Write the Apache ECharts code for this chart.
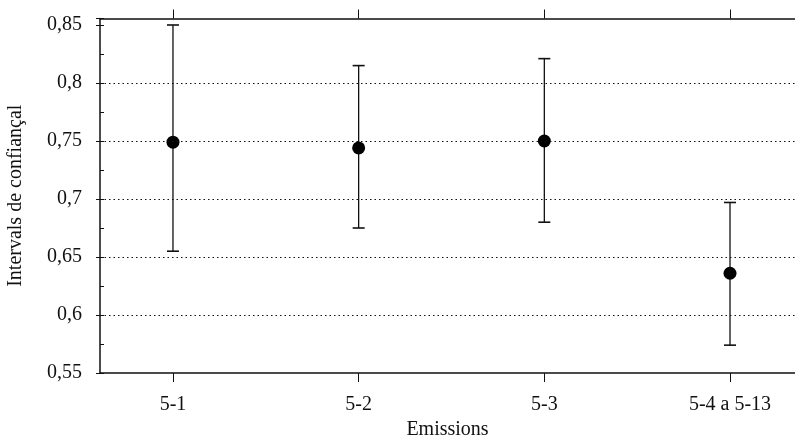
<!DOCTYPE html>
<html>
<head>
<meta charset="utf-8">
<script src="https://cdn.jsdelivr.net/npm/echarts@6/dist/echarts.min.js"></script>
<style>html,body{margin:0;padding:0;background:#fff}#c{width:795px;height:440px}</style>
</head>
<body>
<div id="c"></div>
<script>
var categories = ['5-1', '5-2', '5-3', '5-4 a 5-13'];
var means = [0.749, 0.744, 0.750, 0.636];
var lower = [0.655, 0.675, 0.680, 0.574];
var upper = [0.850, 0.815, 0.821, 0.697];
var gridValues = [0.6, 0.65, 0.7, 0.75, 0.8];

var FONT = 'Liberation Serif';
var INK = '#111';
var xPos = categories.map(function (c, i) { return i + 1; });

var errData = categories.map(function (c, i) { return [xPos[i], lower[i], upper[i]]; });
var meanData = categories.map(function (c, i) { return [xPos[i], means[i]]; });

function yFmt(v) {
  if (Math.abs(v * 20 - Math.round(v * 20)) > 1e-6) return '';
  return String(+v.toFixed(2)).replace('.', ',');
}

var chart = echarts.init(document.getElementById('c'), null, {renderer: 'canvas'});
chart.setOption({
  animation: false,
  backgroundColor: '#fff',
  grid: {left: 100, right: 0, top: 18.5, bottom: 67, containLabel: false, outerBoundsMode: 'none'},
  xAxis: [{
    type: 'value', min: 0.607, max: 4.35, position: 'bottom',
    name: 'Emissions', nameLocation: 'middle', nameGap: 46,
    nameTextStyle: {fontFamily: FONT, fontSize: 20, color: INK},
    axisLine: {show: true, lineStyle: {color: INK, width: 1.5}},
    axisTick: {show: true, inside: false, length: 9, customValues: xPos, lineStyle: {color: INK, width: 1}},
    axisLabel: {show: true, margin: 22, customValues: xPos, fontFamily: FONT, fontSize: 20, color: INK,
      formatter: function (v) { return categories[Math.round(v) - 1] || ''; }},
    splitLine: {show: false}
  }, {
    type: 'value', min: 0.607, max: 4.35, position: 'top',
    axisLine: {show: true, onZero: false, lineStyle: {color: INK, width: 1.5}},
    axisTick: {show: true, inside: false, length: 9, customValues: xPos, lineStyle: {color: INK, width: 1}},
    axisLabel: {show: false},
    splitLine: {show: false}
  }],
  yAxis: [{
    type: 'value', min: 0.55, max: 0.8556, interval: 0.05, position: 'left',
    name: 'Intervals de confiançal', nameLocation: 'middle', nameGap: 74, nameRotate: 90,
    nameTextStyle: {fontFamily: FONT, fontSize: 20, color: INK},
    axisLine: {show: true, lineStyle: {color: INK, width: 1.5}},
    axisTick: {show: true, inside: false, length: 4, lineStyle: {color: INK, width: 1}},
    axisLabel: {show: true, margin: 18, fontFamily: FONT, fontSize: 20, color: INK, formatter: yFmt},
    splitLine: {show: false}
  }, {
    type: 'value', min: 0.55, max: 0.8556, interval: 0.05, position: 'right', offset: -695,
    axisLine: {show: false},
    axisTick: {show: true, inside: false, length: 4, lineStyle: {color: INK, width: 1}},
    minorTick: {show: true, splitNumber: 2, length: 4, lineStyle: {color: INK, width: 1}},
    axisLabel: {show: false},
    splitLine: {show: false}
  }],
  series: [{
    type: 'custom',
    xAxisIndex: 0, yAxisIndex: 0,
    data: errData,
    renderItem: function (params, api) {
      var x = api.value(0);
      var lo = api.coord([x, api.value(1)]);
      var hi = api.coord([x, api.value(2)]);
      var hw = 6;
      var st = {stroke: INK, lineWidth: 1.3};
      return {type: 'group', children: [
        {type: 'line', shape: {x1: lo[0], y1: lo[1], x2: hi[0], y2: hi[1]}, style: st},
        {type: 'line', shape: {x1: lo[0] - hw, y1: lo[1], x2: lo[0] + hw, y2: lo[1]}, style: {stroke: INK, lineWidth: 1.6}},
        {type: 'line', shape: {x1: hi[0] - hw, y1: hi[1], x2: hi[0] + hw, y2: hi[1]}, style: {stroke: INK, lineWidth: 1.6}}
      ]};
    },
    markLine: {
      silent: true, symbol: 'none', label: {show: false},
      lineStyle: {color: '#111', type: [1.5, 3], width: 1},
      data: gridValues.map(function (v) { return {yAxis: v}; })
    },
    z: 3
  }, {
    type: 'scatter',
    xAxisIndex: 0, yAxisIndex: 0,
    data: meanData,
    symbol: 'circle', symbolSize: 13,
    itemStyle: {color: '#000', opacity: 1},
    z: 4
  }]
});
</script>
</body>
</html>
